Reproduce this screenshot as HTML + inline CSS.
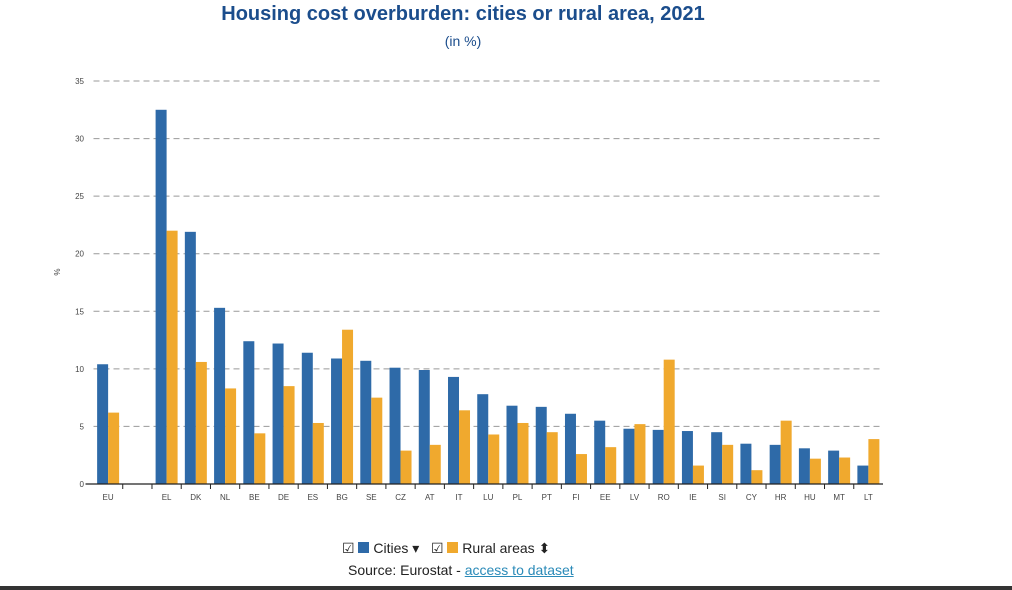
<!DOCTYPE html>
<html><head><meta charset="utf-8">
<style>
body{margin:0;width:1012px;height:590px;background:#fff;font-family:"Liberation Sans",sans-serif;overflow:hidden;position:relative}
#title{position:absolute;top:3px;left:0;width:926px;text-align:center;font-size:20px;font-weight:bold;color:#1b4d8c}
#sub{position:absolute;top:33px;left:0;width:926px;text-align:center;font-size:14px;color:#1b4d8c}
#legend{position:absolute;top:540px;left:342px;font-size:14px;color:#222}
#source{position:absolute;top:562px;left:348px;font-size:14px;color:#222}
#source a{color:#2a8ab8;text-decoration:underline}
#bottombar{position:absolute;left:0;top:586px;width:1012px;height:4px;background:#333}
</style></head><body>
<div id="title">Housing cost overburden: cities or rural area, 2021</div>
<div id="sub">(in %)</div>
<svg id="chart" width="1012" height="530" style="position:absolute;left:0;top:0"></svg>
<div id="legend">
<span>☑ <span style="display:inline-block;width:11px;height:11px;background:#2e6aa8"></span> Cities ▾</span>
&nbsp;&nbsp;<span>☑ <span style="display:inline-block;width:11px;height:11px;background:#f0a92e"></span> Rural areas ⬍</span>
</div>
<div id="source">Source: Eurostat - <a>access to dataset</a></div>
<div id="bottombar"></div>
<script>
const categories=["EU","","EL","DK","NL","BE","DE","ES","BG","SE","CZ","AT","IT","LU","PL","PT","FI","EE","LV","RO","IE","SI","CY","HR","HU","MT","LT"];
const cities=[10.4,null,32.5,21.9,15.3,12.4,12.2,11.4,10.9,10.7,10.1,9.9,9.3,7.8,6.8,6.7,6.1,5.5,4.8,4.7,4.6,4.5,3.5,3.4,3.1,2.9,1.6];
const rural=[6.2,null,22,10.6,8.3,4.4,8.5,5.3,13.4,7.5,2.9,3.4,6.4,4.3,5.3,4.5,2.6,3.2,5.2,10.8,1.6,3.4,1.2,5.5,2.2,2.3,3.9];
const yTicks=[0,5,10,15,20,25,30,35];
const svg=document.getElementById('chart');const NS='http://www.w3.org/2000/svg';
const x0=93.5,x1=883,y0=484,y1=81,ymax=35;
const step=(x1-x0)/categories.length;
const y=v=>y0-(v/ymax)*(y0-y1);
const xc=i=>x0+step*i+step/2;
function mk(t,a){const e=document.createElementNS(NS,t);for(const k in a)e.setAttribute(k,a[k]);svg.appendChild(e);return e;}
yTicks.forEach(t=>{
 if(t>0){const l=mk('line',{x1:x0,x2:x1,y1:y(t),y2:y(t),stroke:'#999','stroke-dasharray':'6,4','stroke-width':1});
 
 }
 const tx=mk('text',{x:84,y:y(t)+3,'font-size':8,'text-anchor':'end',fill:'#444'});tx.textContent=t;
 
 
});
const yt=mk('text',{x:60,y:272,'font-size':8,fill:'#444','text-anchor':'middle',transform:'rotate(-90 60 272)'});yt.textContent='%';


const bw=11;
categories.forEach((c,i)=>{
 if(cities[i]!=null){const b=mk('rect',{x:xc(i)-bw,y:y(cities[i]),width:bw,height:y0-y(cities[i]),fill:'#2e6aa8'});
 
 }
 if(rural[i]!=null){const b=mk('rect',{x:xc(i),y:y(rural[i]),width:bw,height:y0-y(rural[i]),fill:'#f0a92e'});
 
 }
 const tx=mk('text',{x:xc(i),y:500,'font-size':8,'text-anchor':'middle',fill:'#444'});tx.textContent=c;
 
 
 if(i>0)mk('line',{x1:x0+step*i,x2:x0+step*i,y1:y0,y2:y0+5,stroke:'#222','stroke-width':1});
});
const ax=mk('line',{x1:x0-8,x2:x1,y1:y0,y2:y0,stroke:'#222','stroke-width':1.2});


</script>
</body></html>
